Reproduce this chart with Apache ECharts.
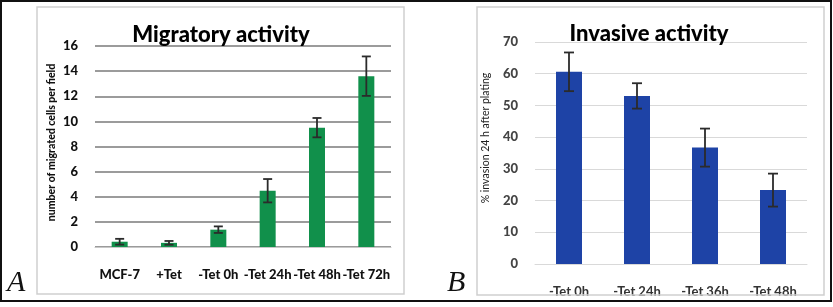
<!DOCTYPE html>
<html>
<head>
<meta charset="utf-8">
<script src="https://cdn.jsdelivr.net/npm/echarts@6/dist/echarts.min.js"></script>
<style>
html,body{margin:0;padding:0;background:#fff;}
#main{width:833px;height:307px;}
</style>
</head>
<body>
<div id="main"></div>
<script>
// panel A - migratory activity
var migCategories = ['MCF-7', '+Tet', '-Tet 0h', '-Tet 24h', '-Tet 48h', '-Tet 72h'];
var migValues = [0.42, 0.33, 1.38, 4.48, 9.5, 13.6];
var migErrors = [0.23, 0.15, 0.26, 0.93, 0.77, 1.57];
var migTicks = [0, 16, 2];

// panel B - invasive activity
var invCategories = ['-Tet 0h', '-Tet 24h', '-Tet 36h', '-Tet 48h'];
var invValues = [60.6, 53.0, 36.7, 23.3];
var invErrors = [6.1, 4.0, 6.0, 5.2];
var invTicks = [0, 70, 10];

var font = 'Lato, "Open Sans", sans-serif';

function errData(vals, errs){
	return vals.map(function(v, i){ return [i, v, errs[i]]; });
}

function errItem(capW){
	return function(params, api){
		var x = api.value(0), v = api.value(1), e = api.value(2);
		var top = api.coord([x, v + e]);
		var bot = api.coord([x, v - e]);
		var st = {stroke: '#2b2b2b', lineWidth: 1.8};
		return {
			type: 'group',
			children: [
				{type: 'line', shape: {x1: top[0], y1: top[1], x2: bot[0], y2: bot[1]}, style: st},
				{type: 'line', shape: {x1: top[0]-capW/2, y1: top[1], x2: top[0]+capW/2, y2: top[1]}, style: st},
				{type: 'line', shape: {x1: bot[0]-capW/2, y1: bot[1], x2: bot[0]+capW/2, y2: bot[1]}, style: st}
			]
		};
	};
}

var myChart = echarts.init(document.getElementById('main'));
var option = {
	animation: false,
	backgroundColor: '#fff',
	title: [{
		text: 'Migratory activity', left: 216, top: 19, textAlign: 'center',
		textStyle: {fontFamily: font, fontWeight: 900, fontSize: 22, color: '#000'}
	}, {
		text: 'Invasive activity', left: 644, top: 18, textAlign: 'center',
		textStyle: {fontFamily: font, fontWeight: 900, fontSize: 22, color: '#000'}
	}],
	grid: [
		{left: 95, right: 442, top: 46, bottom: 60},
		{left: 535, right: 26, top: 42, bottom: 43}
	],
	xAxis: [{
		gridIndex: 0, type: 'category', data: migCategories,
		axisTick: {show: false},
		axisLine: {lineStyle: {color: '#c8c8c8', width: 1}},
		axisLabel: {interval: 0, margin: 21, fontFamily: font, fontWeight: 900, fontSize: 13, color: '#111'}
	}, {
		gridIndex: 1, type: 'category', data: invCategories,
		axisTick: {show: false},
		axisLine: {lineStyle: {color: '#d9d9d9', width: 1}},
		axisLabel: {interval: 0, margin: 21, fontFamily: font, fontWeight: 'bold', fontSize: 13, color: '#333'}
	}],
	yAxis: [{
		gridIndex: 0, type: 'value', min: migTicks[0], max: migTicks[1], interval: migTicks[2],
		name: 'number of migrated cells per field', nameLocation: 'middle', nameGap: 38,
		nameTextStyle: {fontFamily: font, fontWeight: 900, fontSize: 10.5, color: '#111', padding: [0,0,0,8]},
		axisLabel: {margin: 17, fontFamily: font, fontWeight: 900, fontSize: 13, color: '#111'},
		splitLine: {lineStyle: {color: '#7a7a7a', width: 1.5}},
		axisLine: {show: false}, axisTick: {show: false}
	}, {
		gridIndex: 1, type: 'value', min: invTicks[0], max: invTicks[1], interval: invTicks[2],
		name: '% invasion 24 h after plating', nameLocation: 'middle', nameGap: 44,
		nameTextStyle: {fontFamily: font, fontSize: 10.5, color: '#222', padding: [0,0,0,30]},
		axisLabel: {margin: 17, fontFamily: font, fontWeight: 900, fontSize: 13, color: '#444'},
		splitLine: {lineStyle: {color: '#d9d9d9', width: 1}},
		axisLine: {show: false}, axisTick: {show: false}
	}],
	series: [{
		type: 'bar', xAxisIndex: 0, yAxisIndex: 0, data: migValues, barWidth: 16,
		itemStyle: {color: '#11904b'}
	}, {
		type: 'custom', xAxisIndex: 0, yAxisIndex: 0, data: errData(migValues, migErrors),
		renderItem: errItem(9), z: 5
	}, {
		type: 'bar', xAxisIndex: 1, yAxisIndex: 1, data: invValues, barWidth: 26,
		itemStyle: {color: '#1e43a6'}
	}, {
		type: 'custom', xAxisIndex: 1, yAxisIndex: 1, data: errData(invValues, invErrors),
		renderItem: errItem(10), z: 5
	}],
	graphic: [
		{type: 'rect', shape: {x: 37, y: 7, width: 367, height: 287}, style: {fill: 'none', stroke: '#cfcfcf', lineWidth: 1.5}, z: 10},
		{type: 'rect', shape: {x: 477, y: 7, width: 347, height: 288}, style: {fill: 'none', stroke: '#cfcfcf', lineWidth: 1.5}, z: 10},
		{type: 'rect', shape: {x: 1, y: 1, width: 830, height: 300}, style: {fill: 'none', stroke: '#111', lineWidth: 2}, z: 10},
		{type: 'text', left: 7, top: 268, style: {text: 'A', font: 'italic 30px "Liberation Serif", "DejaVu Serif", serif', fill: '#111'}, z: 10},
		{type: 'text', left: 447, top: 268, style: {text: 'B', font: 'italic 30px "Liberation Serif", "DejaVu Serif", serif', fill: '#111'}, z: 10}
	]
};
myChart.setOption(option);
</script>
</body>
</html>
